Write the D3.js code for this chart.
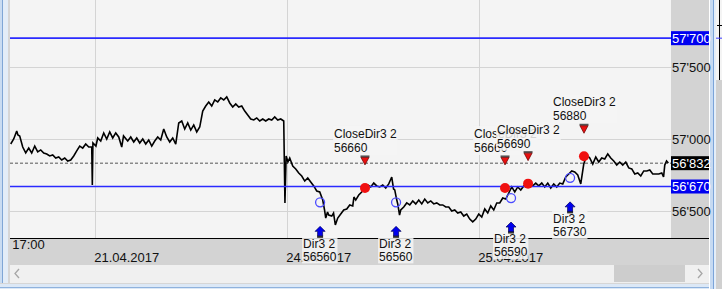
<!DOCTYPE html>
<html>
<head>
<meta charset="utf-8">
<script src="https://cdn.jsdelivr.net/npm/d3@7"></script>
<style>
  html, body { margin: 0; padding: 0; background: #f0f0f0; overflow: hidden; }
  svg { display: block; font-family: 'Liberation Sans', Arial, sans-serif; }
</style>
</head>
<body>
<svg id="chart" width="722" height="289"></svg>
<script>
// price path, hours counted on a 16h session clock (day = 16h, 20.04 17:00 = 9)
var priceHours = [
  9.00, 9.25, 9.50, 9.60, 9.75, 10.00, 10.25, 10.50, 10.75, 11.00, 11.25, 11.50, 11.75,
  12.00, 12.25, 12.50, 12.75, 13.00, 13.25, 13.50, 13.75, 14.00, 14.25, 14.50, 14.75,
  15.00, 15.25, 15.50, 15.75, 15.80, 15.85, 16.10, 16.25, 16.50, 16.75, 17.00, 17.25,
  17.50, 17.75, 18.00, 18.25, 18.40, 18.75, 19.00, 19.25, 19.50, 19.75, 20.00, 20.25,
  20.50, 20.75, 21.00, 21.25, 21.50, 21.75, 22.00, 22.25, 22.50, 22.75, 23.00, 23.25,
  23.50, 23.75, 24.00, 24.25, 24.50, 24.75, 25.00, 25.25, 25.50, 25.75, 26.00, 26.25,
  26.50, 26.75, 27.00, 27.25, 27.50, 27.75, 28.00, 28.25, 28.50, 28.75, 29.00, 29.25,
  29.50, 29.75, 30.00, 30.25, 30.50, 30.75, 31.00, 31.25, 31.50, 31.75, 31.85, 31.95,
  32.10, 32.25, 32.50, 32.75, 33.00, 33.25, 33.50, 33.75, 34.00, 34.25, 34.50, 34.75,
  35.00, 35.15, 35.25, 35.40, 35.50, 35.75, 35.90, 36.05, 36.25, 36.50, 36.75, 37.00,
  37.25, 37.50, 37.60, 37.75, 38.00, 38.25, 38.50, 38.75, 39.00, 39.25, 39.50, 39.75,
  40.00, 40.25, 40.50, 40.75, 40.90, 41.00, 41.15, 41.25, 41.40, 41.50, 41.75, 42.00,
  42.25, 42.50, 42.75, 43.00, 43.25, 43.50, 43.75, 44.00, 44.25, 44.50, 44.75, 45.00,
  45.25, 45.50, 45.75, 46.00, 46.25, 46.50, 46.75, 47.00, 47.25, 47.50, 47.75, 48.00,
  48.25, 48.50, 48.75, 49.00, 49.25, 49.50, 49.75, 50.00, 50.25, 50.50, 50.75, 51.00,
  51.25, 51.50, 51.75, 52.00, 52.25, 52.50, 52.75, 53.00, 53.25, 53.50, 53.75, 54.00,
  54.25, 54.50, 54.75, 55.00, 55.25, 55.50, 55.75, 56.00, 56.25, 56.50, 56.75, 57.00,
  57.25, 57.50, 57.75, 58.00, 58.25, 58.50, 58.75, 59.00, 59.25, 59.50, 59.75, 60.00,
  60.25, 60.50, 60.75, 61.00, 61.25, 61.50, 61.75, 62.00, 62.25, 62.50, 62.75, 63.00,
  63.25, 63.40, 63.50, 63.65, 63.80
];
var priceValues = [
  56965, 57000, 57056, 57028, 57021, 56944, 56903, 56937, 56903, 56951, 56910, 56924, 56903,
  56896, 56882, 56889, 56868, 56875, 56854, 56868, 56847, 56854, 56882, 56917, 56951,
  56937, 56965, 56944, 56944, 56680, 56972, 56951, 57007, 56986, 57042, 57000, 57049,
  57007, 57042, 57014, 56944, 57021, 56986, 57014, 56979, 57007, 56972, 57000, 56965,
  56993, 56951, 56986, 57014, 56993, 57069, 57014, 56979, 57007, 56965, 57111, 57125,
  57069, 57111, 57062, 57097, 57049, 57083, 57194, 57229, 57257, 57229, 57271, 57257,
  57285, 57271, 57292, 57250, 57222, 57243, 57222, 57229, 57194, 57167, 57139, 57132,
  57146, 57125, 57139, 57125, 57139, 57132, 57153, 57132, 57139, 57125, 56556, 56882,
  56840, 56868, 56812, 56792, 56764, 56743, 56708, 56729, 56701, 56674, 56639, 56632,
  56576, 56507, 56451, 56493, 56472, 56465, 56486, 56403, 56451, 56479, 56507, 56514,
  56542, 56535, 56597, 56576, 56611, 56632, 56660, 56681, 56667, 56694, 56674, 56667,
  56681, 56660, 56688, 56736, 56653, 56646, 56583, 56549, 56472, 56507, 56528, 56556,
  56542, 56570, 56549, 56576, 56549, 56583, 56556, 56570, 56549, 56556, 56542, 56542,
  56528, 56528, 56500, 56507, 56486, 56493, 56465, 56479, 56444, 56424, 56444, 56479,
  56458, 56514, 56486, 56535, 56507, 56556, 56556, 56590, 56583, 56625, 56667, 56632,
  56667, 56646, 56674, 56667, 56681, 56674, 56694, 56674, 56694, 56667, 56694, 56660,
  56688, 56667, 56694, 56688, 56736, 56757, 56778, 56771, 56750, 56688, 56826, 56889,
  56868, 56826, 56875, 56840, 56868, 56861, 56896, 56868, 56847, 56819, 56840, 56819,
  56840, 56799, 56792, 56757, 56764, 56743, 56778, 56778, 56785, 56757, 56757, 56757,
  56764, 56736, 56819, 56847, 56833
];

var levelValues = [57700, 56670];
var lastPrice = 56832;
var gridPrices = [57500, 57000, 56500];

var entryHours = [34.78, 41.11, 50.69, 55.61];
var entryPrices = [56560, 56560, 56590, 56730];
var entryNames = ['Dir3 2', 'Dir3 2', 'Dir3 2', 'Dir3 2'];
var exitHours = [38.52, 50.19, 52.11, 56.77];
var exitPrices = [56660, 56660, 56690, 56880];
var exitNames = ['CloseDir3 2', 'CloseDir3 2', 'CloseDir3 2', 'CloseDir3 2'];

var dayHours = [16, 32, 48];
var dayLabels = ['21.04.2017', '24.04.2017', '25.04.2017'];
var timeHours = [9];
var timeLabels = ['17:00'];

const plotLeft = 10, plotRight = 671, plotBottom = 238, axisRight = 709;

var priceFormat = d3.formatLocale({
  decimal: '.', thousands: "'", grouping: [3], currency: ['', '']
}).format(',d');

var svg = d3.select('#chart');
var x = d3.scaleLinear().domain([8.94, 64.02]).range([plotLeft, plotRight]);
var y = d3.scaleLinear().domain([56312.5, 57965]).range([plotBottom, 0]);

drawFrame();
drawGrid();
drawPrice();
drawLevels();
drawAxes();
drawSignals();

function drawFrame() {
  svg.append('rect').attr('width', 722).attr('height', 289).attr('fill', '#f0f0f0');
  svg.append('rect').attr('x', plotLeft).attr('width', plotRight - plotLeft)
    .attr('height', plotBottom).attr('fill', '#f4f4f4');
  svg.append('rect').attr('x', plotRight).attr('width', axisRight - plotRight)
    .attr('height', plotBottom).attr('fill', '#d3d3d3');
  svg.append('rect').attr('x', plotLeft).attr('y', plotBottom)
    .attr('width', axisRight - plotLeft).attr('height', 27).attr('fill', '#d3d3d3');
  // scrollbar
  svg.append('rect').attr('x', plotLeft).attr('y', 265)
    .attr('width', axisRight - plotLeft).attr('height', 18).attr('fill', '#f0f0f0');
  svg.append('rect').attr('x', 614).attr('y', 265).attr('width', 71).attr('height', 17)
    .attr('fill', '#cdcdcd');
  svg.append('path').attr('d', 'M19,269L15,273.5L19,278').attr('fill', 'none')
    .attr('stroke', '#a6a6a6').attr('stroke-width', 1.3);
  svg.append('path').attr('d', 'M698,269L702,273.5L698,278').attr('fill', 'none')
    .attr('stroke', '#a6a6a6').attr('stroke-width', 1.3);
  // window borders
  var borders = [
    [0, 0, 2, 289, '#c9dcf2'], [2, 0, 1, 289, '#7fa6d6'], [3, 0, 5, 289, '#e3edf8'],
    [8, 0, 2, 289, '#d6d6d6'], [0, 283, 716, 1, '#d6d6d6'], [0, 284, 716, 5, '#dce8f6'],
    [0, 287, 716, 1, '#8fb2dd'], [709, 0, 1, 289, '#ffffff'], [710, 0, 3, 289, '#c6daf2'],
    [713, 0, 1, 289, '#7ba4d9'], [714, 0, 2, 289, '#e4eef9'],
    [716, 0, 6, 80, '#f4f4f4'], [716, 80, 6, 209, '#d0d0d0']
  ];
  borders.forEach(function (b) {
    svg.append('rect').attr('x', b[0]).attr('y', b[1]).attr('width', b[2])
      .attr('height', b[3]).attr('fill', b[4]);
  });
  svg.append('line').attr('x1', 719.5).attr('x2', 719.5).attr('y1', 0).attr('y2', 80)
    .attr('stroke', '#000');
  svg.append('line').attr('x1', 717).attr('x2', 722).attr('y1', 25.5).attr('y2', 25.5)
    .attr('stroke', '#000');
  svg.append('line').attr('x1', 716).attr('x2', 722).attr('y1', y(levelValues[0]))
    .attr('y2', y(levelValues[0])).attr('stroke', '#3b3bff');
}

function drawGrid() {
  svg.append('g').selectAll('line').data(gridPrices).enter().append('line')
    .attr('x1', plotLeft).attr('x2', plotRight)
    .attr('y1', function (d) { return Math.round(y(d)) + 0.5; })
    .attr('y2', function (d) { return Math.round(y(d)) + 0.5; })
    .attr('stroke', '#d4d4d4');
  svg.append('g').selectAll('line').data(dayHours).enter().append('line')
    .attr('x1', function (d) { return Math.round(x(d)) + 0.5; })
    .attr('x2', function (d) { return Math.round(x(d)) + 0.5; })
    .attr('y1', 0).attr('y2', plotBottom)
    .attr('stroke', '#d4d4d4');
}

function drawPrice() {
  svg.append('clipPath').attr('id', 'plot-clip').append('rect')
    .attr('x', plotLeft).attr('width', plotRight - plotLeft).attr('height', plotBottom);
  var line = d3.line()
    .x(function (d, i) { return x(priceHours[i]); })
    .y(function (d) { return y(d); });
  // last price dashed line
  svg.append('line').attr('x1', plotLeft).attr('x2', plotRight)
    .attr('y1', y(lastPrice)).attr('y2', y(lastPrice))
    .attr('stroke', '#555').attr('stroke-dasharray', '3,2');
  svg.append('path').datum(priceValues)
    .attr('clip-path', 'url(#plot-clip)')
    .attr('d', line).attr('fill', 'none')
    .attr('stroke', '#000').attr('stroke-width', 1.6)
    .attr('stroke-linejoin', 'miter').attr('stroke-miterlimit', 3);
}

function drawLevels() {
  svg.append('g').selectAll('line').data(levelValues).enter().append('line')
    .attr('x1', plotLeft).attr('x2', plotRight)
    .attr('y1', y).attr('y2', y)
    .attr('stroke', '#2a2aff').attr('stroke-width', 1.6);
}

function drawAxes() {
  var yAxis = svg.append('g').attr('transform', 'translate(' + plotRight + ',0)')
    .call(d3.axisRight(y).tickValues(gridPrices).tickSize(0).tickPadding(1)
      .tickFormat(priceFormat));
  yAxis.select('.domain').remove();
  yAxis.selectAll('text').attr('font-size', 13).attr('fill', '#111')
    .attr('font-family', "'Liberation Sans', Arial, sans-serif");

  var tags = levelValues.map(function (v) { return { value: v, color: '#0000f0' }; })
    .concat([{ value: lastPrice, color: '#000' }]);
  var tag = svg.append('g').selectAll('g').data(tags).enter().append('g')
    .attr('transform', function (d) { return 'translate(' + plotRight + ',' + y(d.value) + ')'; });
  tag.append('rect').attr('x', 0).attr('y', -7).attr('width', axisRight - plotRight)
    .attr('height', 14).attr('fill', function (d) { return d.color; });
  tag.append('text').attr('x', 1).attr('dy', '0.35em').attr('font-size', 13)
    .attr('fill', '#fff').text(function (d) { return priceFormat(d.value); });

  var dateAxis = svg.append('g').attr('transform', 'translate(0,' + plotBottom + ')')
    .call(d3.axisBottom(x).tickValues(dayHours).tickSize(0).tickPadding(15)
      .tickFormat(function (d, i) { return dayLabels[i]; }));
  var timeAxis = svg.append('g').attr('transform', 'translate(0,' + plotBottom + ')')
    .call(d3.axisBottom(x).tickValues(timeHours).tickSize(0).tickPadding(2)
      .tickFormat(function (d, i) { return timeLabels[i]; }));
  [dateAxis, timeAxis].forEach(function (g) {
    g.select('.domain').remove();
    g.selectAll('text').attr('text-anchor', 'start').attr('font-size', 13)
      .attr('fill', '#111').attr('font-family', "'Liberation Sans', Arial, sans-serif");
  });
  timeAxis.selectAll('text').attr('dx', 1);
  dateAxis.selectAll('text').attr('dx', -1);
  svg.append('line').attr('x1', plotLeft).attr('x2', axisRight)
    .attr('y1', plotBottom + 0.5).attr('y2', plotBottom + 0.5).attr('stroke', '#000');
}

function drawSignals() {
  var exits = exitHours.map(function (h, i) {
    var cy = y(exitPrices[i]);
    return { cx: x(h), cy: cy, mark: cy - 27, lines: [exitNames[i], String(exitPrices[i])] };
  });
  var entries = entryHours.map(function (h, i) {
    var cy = y(entryPrices[i]);
    return { cx: x(h), cy: cy, mark: cy + 24, lines: [entryNames[i], String(entryPrices[i])] };
  });
  exits.forEach(function (d) {
    d.tx = d.cx - 31;
    d.ty = [d.mark - 27, d.mark - 13];
  });
  entries.forEach(function (d) {
    d.tx = d.cx - 17;
    d.ty = [d.mark + 17, d.mark + 30];
  });

  // text boxes first, markers stay on top
  exits.concat(entries).forEach(drawLabel);

  var g = svg.append('g');
  g.selectAll('.entry-circle').data(entries).enter().append('circle')
    .attr('cx', function (d) { return d.cx; }).attr('cy', function (d) { return d.cy; })
    .attr('r', 4.5).attr('fill', 'none').attr('stroke', '#4b4bff').attr('stroke-width', 1.3);
  g.selectAll('.exit-dot').data(exits).enter().append('circle')
    .attr('cx', function (d) { return d.cx; }).attr('cy', function (d) { return d.cy; })
    .attr('r', 5).attr('fill', '#f01010');

  // down triangles above exits
  exits.forEach(function (d) {
    var ty = d.mark;
    g.append('rect').attr('x', d.cx - 4.5).attr('y', ty - 5.5).attr('width', 9).attr('height', 2)
      .attr('fill', '#555');
    g.append('path')
      .attr('d', 'M' + (d.cx - 4) + ',' + (ty - 3.5) + 'L' + (d.cx + 4) + ',' + (ty - 3.5) +
        'L' + d.cx + ',' + (ty + 4) + 'Z')
      .attr('fill', '#e81010').attr('stroke', '#600').attr('stroke-width', 0.7);
  });

  // up arrows below entries
  entries.forEach(function (d) {
    var tip = d.mark;
    g.append('rect').attr('x', d.cx - 3).attr('y', tip + 9).attr('width', 6).attr('height', 2.5)
      .attr('fill', '#333');
    g.append('path')
      .attr('d', 'M' + d.cx + ',' + tip + 'L' + (d.cx + 5) + ',' + (tip + 5) + 'L' + (d.cx + 2.5) +
        ',' + (tip + 5) + 'L' + (d.cx + 2.5) + ',' + (tip + 9.5) + 'L' + (d.cx - 2.5) + ',' +
        (tip + 9.5) + 'L' + (d.cx - 2.5) + ',' + (tip + 5) + 'L' + (d.cx - 5) + ',' + (tip + 5) + 'Z')
      .attr('fill', '#0000ee').attr('stroke', '#000060').attr('stroke-width', 0.7);
  });
}

function drawLabel(d) {
  var label = svg.append('g');
  var box = label.append('rect').attr('fill', '#f4f4f4').attr('fill-opacity', 0.85);
  var widest = 0;
  d.lines.forEach(function (txt, i) {
    var t = label.append('text').attr('x', d.tx).attr('y', d.ty[i]).attr('dy', '0.35em')
      .attr('font-size', 12).attr('fill', '#111').text(txt);
    widest = Math.max(widest, t.node().getComputedTextLength());
  });
  box.attr('x', d.tx - 1).attr('y', d.ty[0] - 8).attr('width', widest + 2)
    .attr('height', d.ty[1] - d.ty[0] + 15);
}
</script>
</body>
</html>
